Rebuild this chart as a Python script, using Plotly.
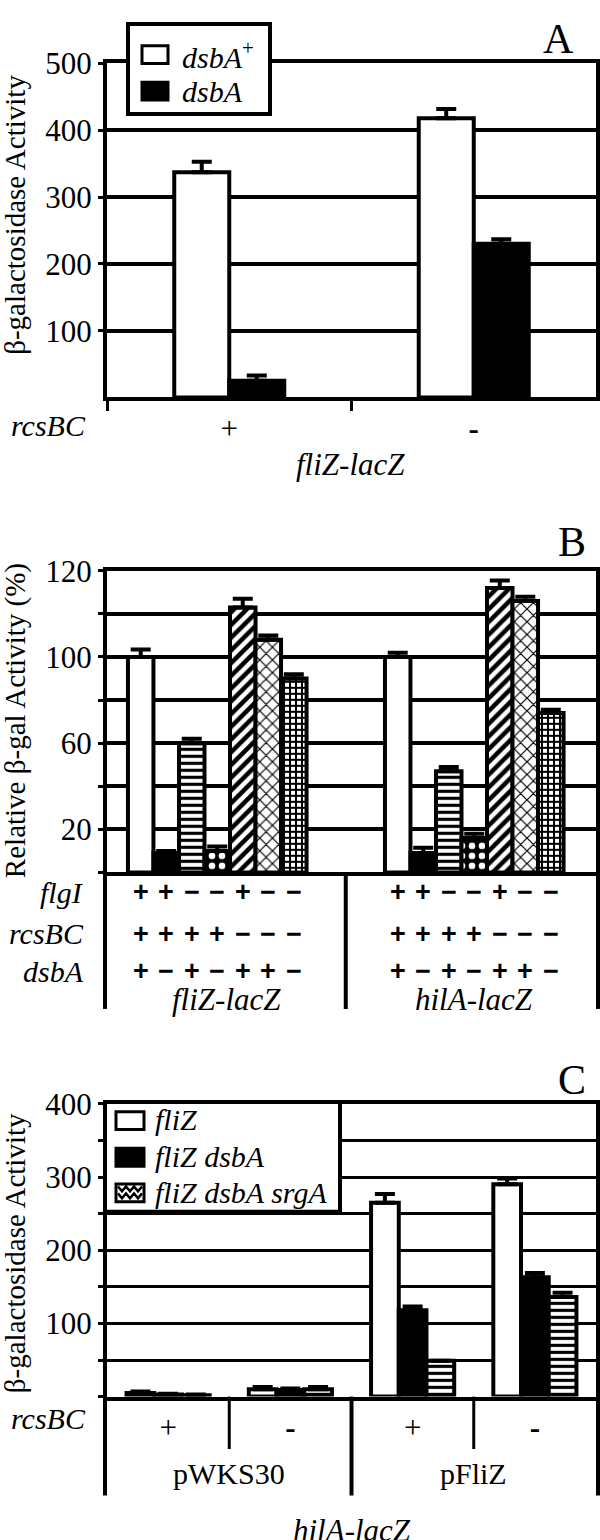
import plotly.graph_objects as go

W, H = 600, 1540
SERIF = "Liberation Serif, Times New Roman, Times, DejaVu Serif, serif"
SANS = "Liberation Sans, Arial, DejaVu Sans, sans-serif"

# ---------------- Panel A data ----------------
a_rcsBC = ["+", "-"]
a_rcsBC_text = ["+", "<b>-</b>"]
a_dsbA_plus = [337, 418]
a_dsbA_plus_err = [16, 14]
a_dsbA_minus = [25, 230]
a_dsbA_minus_err = [8, 7]
a_yticks = [100, 200, 300, 400, 500]

# ---------------- Panel B data ----------------
b_reporters = ["fliZ-lacZ", "hilA-lacZ"]
b_flgI = ["+", "+", "−", "−", "+", "−", "−"]
b_rcsBC = ["+", "+", "+", "+", "−", "−", "−"]
b_dsbA = ["+", "−", "+", "−", "+", "+", "−"]
b_fliZ_vals = [100, 9, 60, 10, 123, 108, 90]
b_fliZ_err = [3.5, 1, 2, 2, 4, 2, 2]
b_hilA_vals = [100, 9, 47, 16, 132, 126, 74]
b_hilA_err = [2, 2.5, 2, 2, 3.5, 2, 1.5]
b_tickvals = [20, 60, 100, 140]
b_ticktext = ["20", "60", "100", "120"]

# ---------------- Panel C data ----------------
c_plasmid = ["pWKS30", "pWKS30", "pFliZ", "pFliZ"]
c_rcsBC = ["+", "-", "+", "-"]
c_fliZ = [5, 10, 265, 290]
c_fliZ_err = [2, 3, 12, 8]
c_fliZ_dsbA = [3, 9, 118, 163]
c_fliZ_dsbA_err = [1, 2, 5, 6]
c_fliZ_dsbA_srgA = [2, 10, 49, 136]
c_fliZ_dsbA_srgA_err = [1, 3, 0, 6]
c_yticks = [100, 200, 300, 400]


def X(px):
    return px / W


def Y(py):
    return 1 - py / H


def solid(color):
    return dict(color=color, line=dict(color="black", width=4))


def pat(shape, size, solidity, fg="black", bg="white"):
    return dict(color=bg, line=dict(color="black", width=4),
                pattern=dict(shape=shape, size=size, solidity=solidity,
                             fgcolor=fg, bgcolor=bg, fillmode="replace"))


WAVY = pat("-", 7, 0.45)
b_styles = [solid("white"), solid("black"), WAVY, pat(".", 10, 0.35, fg="white", bg="black"),
            pat("/", 9, 0.5), pat("x", 9, 0.25), pat("+", 6, 0.55)]
c_styles = [solid("white"), solid("black"), WAVY]

fig = go.Figure()


def add_group(xa, ya, x, series, gap, markers):
    n = len(series)
    w = (1 - gap) / n
    offs = []
    for i, (vals, errs) in enumerate(series):
        off = -(1 - gap) / 2 + i * w
        offs.append(off + w / 2)
        fig.add_trace(go.Bar(
            x=x, y=vals, width=w, offset=off, marker=markers[i],
            error_y=dict(type="data", array=errs, arrayminus=[0] * len(errs),
                         symmetric=False, color="black", thickness=4, width=10),
            xaxis=xa, yaxis=ya, showlegend=False, hoverinfo="skip"))
    return offs


# Panel A bars
add_group("x", "y", a_rcsBC,
          [(a_dsbA_plus, a_dsbA_plus_err), (a_dsbA_minus, a_dsbA_minus_err)],
          0.55, [solid("white"), solid("black")])

# Panel B bars
b_series = [([b_fliZ_vals[i], b_hilA_vals[i]], [b_fliZ_err[i], b_hilA_err[i]])
            for i in range(len(b_flgI))]
b_centers = add_group("x2", "y2", b_reporters, b_series, 0.305, b_styles)

# Panel C bars
c_keys = [f"{p} {s}" for p, s in zip(c_plasmid, c_rcsBC)]
add_group("x3", "y3", c_keys,
          [(c_fliZ, c_fliZ_err), (c_fliZ_dsbA, c_fliZ_dsbA_err),
           (c_fliZ_dsbA_srgA, c_fliZ_dsbA_srgA_err)],
          0.32, c_styles)

XDOM = [X(107), X(596)]
line_style = dict(showline=True, linecolor="black", linewidth=4, mirror=True)
tickfont = dict(family=SERIF, size=31, color="black")

fig.update_layout(
    width=W, height=H, autosize=False,
    margin=dict(l=0, r=0, t=0, b=0),
    paper_bgcolor="white", plot_bgcolor="white",
    barmode="overlay",
    font=dict(family=SERIF, color="black"),
    xaxis=dict(domain=XDOM, anchor="y", type="category", range=[-0.5, 1.5],
               tickvals=a_rcsBC, ticktext=a_rcsBC_text, tickfont=tickfont,
               ticks="outside", tickson="boundaries", ticklen=10, tickwidth=3,
               tickcolor="black", showgrid=False, **line_style),
    yaxis=dict(domain=[Y(384.7), Y(47)], anchor="x", range=[0, 500],
               tickvals=a_yticks, tickfont=tickfont, ticks="outside", ticklen=5,
               tickwidth=3, tickcolor="black", showgrid=True, gridcolor="black",
               gridwidth=4, zeroline=False, **line_style),
    xaxis2=dict(domain=XDOM, anchor="y2", type="category", range=[-0.429, 1.4737],
                showticklabels=False, ticks="", showgrid=False, **line_style),
    yaxis2=dict(domain=[Y(865), Y(560)], anchor="x2", range=[0, 140],
                tickvals=b_tickvals, ticktext=b_ticktext, tickfont=tickfont,
                ticks="outside", ticklen=5, tickwidth=3, tickcolor="black",
                showgrid=True, gridcolor="black", gridwidth=4, zeroline=False,
                minor=dict(dtick=20, tick0=0, showgrid=True, gridcolor="black",
                           gridwidth=4, ticks="outside", ticklen=5, tickwidth=3,
                           tickcolor="black"),
                **line_style),
    xaxis3=dict(domain=XDOM, anchor="y3", type="category", range=[-0.5, 3.5],
                tickvals=c_keys, ticktext=["+" if s == "+" else "<b>-</b>" for s in c_rcsBC],
                tickfont=tickfont, ticks="", showgrid=False, **line_style),
    yaxis3=dict(domain=[Y(1395), Y(1099)], anchor="x3", range=[0, 400],
                tickvals=c_yticks, tickfont=tickfont, ticks="outside", ticklen=5,
                tickwidth=3, tickcolor="black", showgrid=True, gridcolor="black",
                gridwidth=3, zeroline=False,
                minor=dict(dtick=50, tick0=0, showgrid=True, gridcolor="black",
                           gridwidth=3, ticks="outside", ticklen=5, tickwidth=3,
                           tickcolor="black"),
                **line_style),
)

shapes = []
ann = []


def text(t, px, py, size=30, family=SERIF, xanchor="center", angle=0, xref="paper", xval=None):
    ann.append(dict(text=t, x=(xval if xval is not None else X(px)), y=Y(py),
                    xref=xref, yref="paper", xanchor=xanchor, yanchor="middle",
                    showarrow=False, textangle=angle,
                    font=dict(family=family, size=size, color="black")))


def rect(x0, y0, x1, y1, fill="white", lw=4):
    shapes.append(dict(type="rect", xref="paper", yref="paper", x0=X(x0), x1=X(x1),
                       y0=Y(y1), y1=Y(y0), fillcolor=fill,
                       line=dict(color="black", width=lw), layer="above"))


def vline(xv, y0, y1, xref="paper", lw=4):
    shapes.append(dict(type="line", xref=xref, yref="paper",
                       x0=xv, x1=xv, y0=Y(y0), y1=Y(y1),
                       line=dict(color="black", width=lw), layer="above"))


# ---------- Panel A decorations ----------
text("A", 558, 22, size=42)
text("β-galactosidase Activity", 15, 200, size=29, angle=-90)
text("<i>rcsBC</i>", 88, 413, xanchor="right")
text("<i>fliZ-lacZ</i>", 350, 453, size=31)
rect(128, 7, 270, 98)
rect(142, 29, 168, 47, fill="white", lw=3)
rect(142, 66, 168, 84, fill="black", lw=3)
text("<i>dsbA</i><sup>+</sup>", 180, 38, xanchor="left")
text("<i>dsbA</i>", 180, 75, xanchor="left")

# ---------- Panel B decorations ----------
text("B", 572, 531, size=42)
text("Relative β-gal Activity (%)", 15, 712, size=29, angle=-90)
rows = [("flgI", b_flgI, 885), ("rcsBC", b_rcsBC, 927), ("dsbA", b_dsbA, 965)]
for label, signs, py in rows:
    text(f"<i>{label}</i>", 86, py, xanchor="right")
    for g in range(len(b_reporters)):
        for i, s in enumerate(signs):
            text(f"<b>{s}</b>", None, py, size=27, family=SANS, xref="x2",
                 xval=g + b_centers[i])
text("<i>fliZ-lacZ</i>", 226, 993, size=31)
text("<i>hilA-lacZ</i>", 474, 993, size=31)
vline(X(105), 865, 1003)
vline(X(598), 865, 1003)
vline(0.5, 865, 1003, xref="x2")

# ---------- Panel C decorations ----------
text("C", 572, 1075, size=42)
text("β-galactosidase Activity", 15, 1250, size=29, angle=-90)
text("<i>rcsBC</i>", 88, 1417, xanchor="right")
for p in dict.fromkeys(c_plasmid):
    idx = [i for i, q in enumerate(c_plasmid) if q == p]
    text(p, None, 1473, xref="x3", xval=sum(idx) / len(idx))
text("<i>hilA-lacZ</i>", 352, 1530, size=31)
n = len(c_keys)
vline(X(105), 1395, 1495)
vline(X(598), 1395, 1495)
for i in range(n - 1):
    long_ = c_plasmid[i] != c_plasmid[i + 1]
    vline(i + 0.5, 1395, 1495 if long_ else 1448, xref="x3", lw=4 if long_ else 3)

rect(105, 1097, 340, 1208)
rect(116, 1107, 144, 1125, fill="white", lw=3)
rect(116, 1144, 144, 1162, fill="black", lw=3)
rect(116, 1180, 144, 1198, fill="white", lw=3)
# zigzag swatch lines
for yc in (1185, 1192):
    pts = []
    xs = 118
    k = 0
    while xs <= 142:
        pts.append((xs, yc + (2.5 if k % 2 else -2.5)))
        xs += 4
        k += 1
    path = "M " + " L ".join(f"{X(a):.5f},{Y(b):.5f}" for a, b in pts)
    shapes.append(dict(type="path", xref="paper", yref="paper", path=path,
                       line=dict(color="black", width=2.5), layer="above"))
text("<i>fliZ</i>", 153, 1115, xanchor="left")
text("<i>fliZ dsbA</i>", 153, 1152, xanchor="left")
text("<i>fliZ dsbA srgA</i>", 153, 1189, xanchor="left")

fig.update_layout(shapes=shapes, annotations=ann)
fig.write_html("out.html", config={"displayModeBar": False},
               post_script="document.body.style.margin='0';document.body.style.overflow='hidden';")
